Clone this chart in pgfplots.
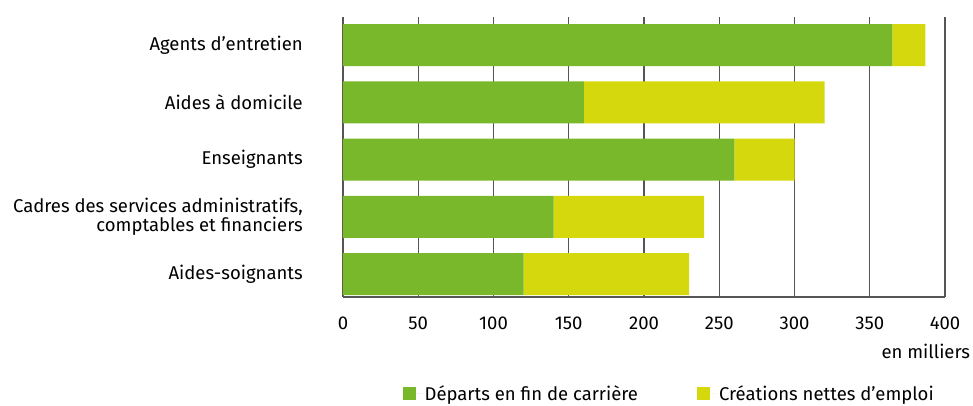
\documentclass[border=0pt]{standalone}
\usepackage{fontspec}
\setmainfont{Fira Sans}
\usepackage{pgfplots}
\pgfplotsset{compat=1.18}
\definecolor{vert}{RGB}{120,184,42}
\definecolor{jaune}{RGB}{212,216,12}
\definecolor{grille}{RGB}{85,85,85}
\newcommand{\fs}{\fontsize{18.5}{19}\selectfont}
\begin{document}
\begin{tikzpicture}[x=1pt,y=1pt]
\useasboundingbox (-343,-108) rectangle (630,297);
\begin{axis}[
  at={(0,0)}, anchor=south west,
  scale only axis, width=602pt, height=280pt,
  clip=false,
  xbar stacked, bar width=42pt,
  xmin=0, xmax=400, ymin=-0.4, ymax=4.49,
  xtick={0,50,...,400},
  ytick={0,1,2,3,4},
  yticklabels={Aides-soignants, {Cadres des services administratifs,\\comptables et financiers}, Enseignants, Aides à domicile, Agents d’entretien},
  yticklabel style={align=right, font=\fs, inner sep=0pt, xshift=-40pt},
  xticklabel style={font=\fs, yshift=-16pt},
  /pgf/number format/assume math mode=true,
  major tick length=0pt,
  xmajorgrids, grid style={grille, line width=1.2pt},
  axis x line*=bottom, axis y line*=left,
  axis line style={grille, line width=1.2pt},
  legend columns=2,
  legend style={draw=none, at={(0.985,-0.346)}, anchor=east, font=\fs, inner sep=0pt,
    /tikz/every even column/.append style={column sep=57pt}},
  legend image code/.code={\fill[#1] (0pt,-6.5pt) rectangle (13pt,6.5pt); \path (0pt,0pt) -- (20pt,0pt);},
]
\addplot[fill=vert, draw=none] coordinates {(120,0) (140,1) (260,2) (160,3) (365,4)};
\addplot[fill=jaune, draw=none] coordinates {(110,0) (100,1) (40,2) (160,3) (22,4)};
\legend{Départs en fin de carrière, Créations nettes d’emploi}
\node[anchor=east, font=\fs, inner sep=0pt] at (rel axis cs:1.042,-0.195) {en milliers};
\end{axis}
\end{tikzpicture}
\end{document}
